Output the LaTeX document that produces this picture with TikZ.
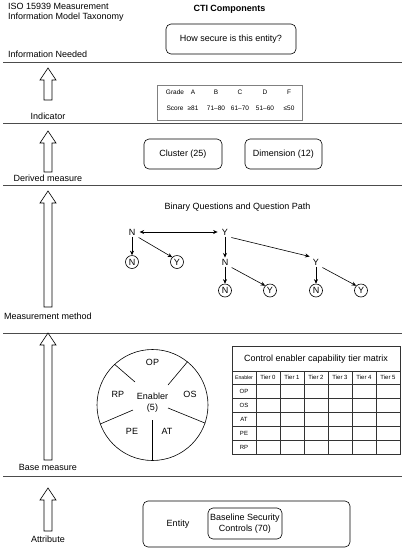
\documentclass[tikz,border=0pt]{standalone}
\usepackage{fontspec}
\setmainfont{Liberation Sans}
\usetikzlibrary{arrows.meta}
\newcommand\blockup[3]{\draw[blockarr] (#1-4,#3) -- (#1-4,#2+12) -- (#1-8,#2+12) -- (#1,#2) -- (#1+8,#2+12) -- (#1+4,#2+12) -- (#1+4,#3) -- cycle;}
\begin{document}
\begin{tikzpicture}[x=1pt,y=-1pt,
  every node/.style={font=\fontsize{9}{10.5}\selectfont, inner sep=1pt},
  sepline/.style={draw=black!70, line width=0.7pt},
  blockarr/.style={draw=black, line width=0.6pt, fill=white, line join=miter},
  rbox/.style={draw=black, line width=0.6pt, rounded corners=5pt},
  small/.style={font=\fontsize{6.5}{7}\selectfont},
  tiny/.style={font=\fontsize{6}{6.5}\selectfont},
  qn/.style={inner sep=1.2pt},
  qc/.style={draw=black, circle, line width=0.6pt, inner sep=0pt, minimum size=13pt},
  tarr/.style={-{Stealth[length=4.5pt,width=4pt]}, line width=0.6pt},
  tarr2/.style={{Stealth[length=4.5pt,width=4pt]}-{Stealth[length=4.5pt,width=4pt]}, line width=0.6pt},
  grid/.style={draw=black!80, line width=0.5pt}
]
\useasboundingbox (0,0) rectangle (408,550);

% separator lines
\coordinate (l1a) at (3,62); \coordinate (l1b) at (402,62);
\coordinate (l2a) at (3,123); \coordinate (l2b) at (402,123);
\coordinate (l3a) at (3,185); \coordinate (l3b) at (402,185);
\coordinate (l4a) at (3,333); \coordinate (l4b) at (402,333);
\coordinate (l5a) at (3,476); \coordinate (l5b) at (402,476);
\draw[sepline] (l1a) -- (l1b);
\draw[sepline] (l2a) -- (l2b);
\draw[sepline] (l3a) -- (l3b);
\draw[sepline] (l4a) -- (l4b);
\draw[sepline] (l5a) -- (l5b);

% headings
\node[anchor=west, align=left] (iso) at (7,12.5) {ISO 15939 Measurement\\Information Model Taxonomy};
\node[font=\bfseries\fontsize{9}{10.5}\selectfont] (cti) at (229.5,9) {CTI Components};

% Information needed
\node[anchor=west] (infoneeded) at (7,54) {Information Needed};
\node[rbox, minimum width=130pt, minimum height=30pt] (how) at (231,39) {How secure is this entity?};

% Indicator
\blockup{48}{68}{100}
\node (indicator) at (48,116) {Indicator};
\node[draw=black!50, line width=0.6pt, minimum width=145pt, minimum height=35pt] (grade) at (229.5,102.5) {};
\node[small] (g0) at (175,92) {Grade};
\node[small] (g1) at (193,92) {A};
\node[small] (g2) at (216,92) {B};
\node[small] (g3) at (240,92) {C};
\node[small] (g4) at (265,92) {D};
\node[small] (g5) at (289,92) {F};
\node[small] (s0) at (175,108.5) {Score};
\node[small] (s1) at (193,108.5) {≥81};
\node[small] (s2) at (216,108.5) {71–80};
\node[small] (s3) at (240,108.5) {61–70};
\node[small] (s4) at (265,108.5) {51–60};
\node[small] (s5) at (289,108.5) {≤50};

% Derived measure
\blockup{48}{131}{172}
\node (derived) at (48,178) {Derived measure};
\node[rbox, minimum width=78pt, minimum height=30pt] (cluster) at (183,154) {Cluster (25)};
\node[rbox, minimum width=77pt, minimum height=30pt] (dimension) at (283.5,154) {Dimension (12)};

% Measurement method
\blockup{48}{191}{307}
\node (method) at (48,316) {Measurement method};
\node (binary) at (237.5,207) {Binary Questions and Question Path};
\node[qn] (N1) at (132,232) {N};
\node[qn] (Y1) at (225,232) {Y};
\node[qc] (cN1) at (132,262) {N};
\node[qc] (cY1) at (177,262) {Y};
\node[qn] (N2) at (225,262) {N};
\node[qn] (Y2) at (316,262) {Y};
\node[qc] (cN2) at (225,290.5) {N};
\node[qc] (cY2) at (270,290.5) {Y};
\node[qc] (cN3) at (316,290.5) {N};
\node[qc] (cY3) at (361,290.5) {Y};
\draw[tarr2] ([xshift=3pt]N1.east) -- ([xshift=-3pt]Y1.west);
\draw[tarr] (N1) -- (cN1);
\draw[tarr] ([xshift=2pt,yshift=-1pt]N1.south east) -- (cY1.north west);
\draw[tarr] (Y1) -- (N2);
\draw[tarr] ([xshift=2pt,yshift=-1pt]Y1.south east) -- ([xshift=-2pt,yshift=1pt]Y2.north west);
\draw[tarr] (N2) -- (cN2);
\draw[tarr] ([xshift=2pt,yshift=-1pt]N2.south east) -- (cY2.north west);
\draw[tarr] (Y2) -- (cN3);
\draw[tarr] ([xshift=2pt,yshift=-1pt]Y2.south east) -- (cY3.north west);

% Base measure
\blockup{48}{333}{460}
\node (base) at (48,467) {Base measure};
\node[draw=black, circle, line width=0.6pt, minimum size=111pt, inner sep=0pt] (enab) at (152.5,405) {};
\coordinate (iul) at (135,382);
\coordinate (iur) at (168,385);
\coordinate (ir) at (168,408);
\coordinate (il) at (133,410);
\coordinate (ib) at (152.5,420);
\draw[line width=0.6pt] (iul) -- (enab.133.6);
\draw[line width=0.6pt] (iur) -- (enab.51);
\draw[line width=0.6pt] (ir) -- (enab.-19);
\draw[line width=0.6pt] (il) -- (enab.-160);
\draw[line width=0.6pt] (ib) -- (enab.-90);
\node (op) at (152.5,362) {OP};
\node (rp) at (118,394) {RP};
\node (os) at (190,394) {OS};
\node[align=center] (enabtxt) at (152.5,402.5) {Enabler\\(5)};
\node (pe) at (132,431) {PE};
\node (at) at (167,431) {AT};

% matrix
\node[grid, draw, minimum width=168pt, minimum height=108pt, inner sep=0pt] (mat) at (316,400) {};
\node (mattitle) at (316,359) {Control enabler capability tier matrix};
\coordinate (t1a) at (232,371); \coordinate (t1b) at (400,371);
\draw[grid] (t1a) -- (t1b);
\foreach \i in {0,...,4} {
  \draw[grid] (232,384+14*\i) -- (400,384+14*\i);
}
\foreach \k in {1,...,6} {
  \draw[grid] (232+24*\k,371) -- (232+24*\k,454);
}
\node[font=\fontsize{5.2}{6}\selectfont] (hen) at (244,377.5) {Enabler};
\foreach \k in {0,...,5} {
  \node[tiny] (ht\k) at (268+24*\k,377.5) {Tier \k};
}
\foreach \r [count=\i from 0] in {OP,OS,AT,PE,RP} {
  \node[tiny] (row\i) at (244,391+14*\i) {\r};
}

% Attribute
\blockup{48}{488}{531}
\node (attribute) at (48,539) {Attribute};
\node[rbox, minimum width=207pt, minimum height=46pt] (entity) at (246.5,524) {};
\node (entitytxt) at (178,524) {Entity};
\node[rbox, align=center, minimum width=74pt, minimum height=31pt, inner sep=0pt] (bsc) at (245,523.5) {Baseline Security\\Controls (70)};
\end{tikzpicture}
\end{document}
